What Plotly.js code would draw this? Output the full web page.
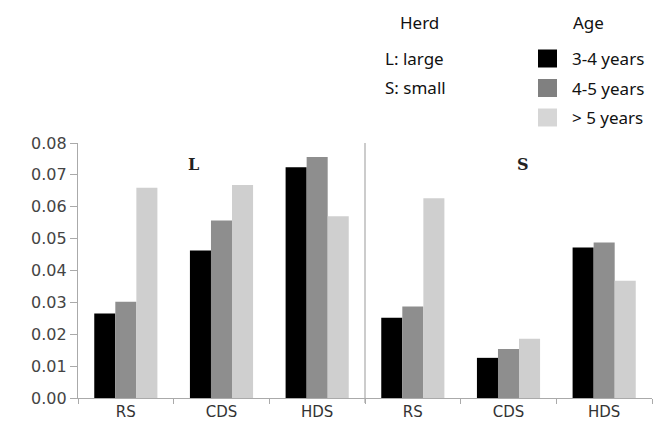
<!DOCTYPE html>
<html><head><meta charset="utf-8">
<script src="https://cdn.plot.ly/plotly-3.0.1.min.js"></script>
<style>html,body{margin:0;padding:0;background:#fff}#chart{width:653px;height:435px}</style>
</head><body><div id="chart"></div>
<script>
const categories = ["RS", "CDS", "HDS", "RS", "CDS", "HDS"];
const herds = ["L", "S"];
const herdLabels = ["L: large", "S: small"];
const ageGroups = ["3-4 years", "4-5 years", "> 5 years"];
const age34 = [0.0265, 0.0463, 0.0724, 0.0252, 0.0126, 0.0472];
const age45 = [0.0302, 0.0557, 0.0756, 0.0287, 0.0154, 0.0488];
const age5plus = [0.0660, 0.0668, 0.0570, 0.0627, 0.0186, 0.0368];
const yTicks = [0, 0.01, 0.02, 0.03, 0.04, 0.05, 0.06, 0.07, 0.08];
const colors = ["#000000", "#8e8e8e", "#cfcfcf"];
const legendColors = ["#000000", "#808080", "#d6d6d6"];

const FONT = "'Noto Sans', 'Open Sans', sans-serif";
const TICKFONT = "'DejaVu Sans', sans-serif";
const xs = categories.map((_, i) => i);
const series = [age34, age45, age5plus];
const traces = series.map((vals, k) => ({
  type: "bar", x: xs, y: vals, name: ageGroups[k],
  marker: {color: colors[k], line: {width: 0}},
  showlegend: false, hoverinfo: "none"
}));

// plot area: x 78..652, y 143..398 in page pixels
const PX = px => (px - 78) / 574;
const PY = py => (398 - py) / 255;

const shapes = [
  {type: "line", xref: "x", yref: "paper", x0: 2.5, x1: 2.5, y0: -0.02, y1: 1,
   line: {color: "#aaaaaa", width: 1.2}}
];
const annotations = [
  {xref: "x", yref: "paper", x: 0.71, y: PY(164), yanchor: "middle", text: "<b>" + herds[0] + "</b>", showarrow: false,
   font: {family: "'DejaVu Serif', serif", size: 16, color: "#222"}},
  {xref: "x", yref: "paper", x: 4.15, y: PY(164), yanchor: "middle", text: "<b>" + herds[1] + "</b>", showarrow: false,
   font: {family: "'DejaVu Serif', serif", size: 16, color: "#222"}},
  {xref: "paper", yref: "paper", x: PX(419), y: PY(23), xanchor: "center", yanchor: "middle",
   text: "Herd", showarrow: false, font: {family: FONT, size: 17, color: "#111"}},
  {xref: "paper", yref: "paper", x: PX(571), y: PY(23), xanchor: "left", yanchor: "middle",
   text: "Age", showarrow: false, font: {family: FONT, size: 17, color: "#111"}}
];
herdLabels.forEach((t, i) => {
  annotations.push({xref: "paper", yref: "paper", x: PX(383), y: PY(58 + 29.5*i),
    xanchor: "left", yanchor: "middle", text: t, showarrow: false,
    font: {family: FONT, size: 17, color: "#111"}});
});
ageGroups.forEach((t, i) => {
  const yc = 58.5 + 29.5*i;
  shapes.push({type: "rect", xref: "paper", yref: "paper",
    x0: PX(538), x1: PX(557), y0: PY(yc - 9), y1: PY(yc + 9),
    fillcolor: legendColors[i], line: {width: 0}});
  annotations.push({xref: "paper", yref: "paper", x: PX(570), y: PY(yc),
    xanchor: "left", yanchor: "middle", text: t, showarrow: false,
    font: {family: FONT, size: 17, color: "#111"}});
});

const layout = {
  width: 653, height: 435,
  margin: {l: 78, r: 1, t: 143, b: 37},
  paper_bgcolor: "#fff", plot_bgcolor: "#fff",
  barmode: "group", bargap: 0.34, bargroupgap: 0,
  font: {family: FONT, color: "#333"},
  xaxis: {
    range: [-0.5, 5.5], tickvals: xs, ticktext: categories,
    ticks: "", showgrid: false, zeroline: false,
    showline: true, linecolor: "#aaaaaa", linewidth: 1.2,
    tickfont: {size: 15, color: "#333", family: TICKFONT},
    minor: {tick0: -0.5, dtick: 1, ticks: "outside", ticklen: 5, tickcolor: "#aaaaaa", showgrid: false},
    fixedrange: true
  },
  yaxis: {
    range: [0, 0.08], tickvals: yTicks, ticktext: yTicks.map(v => v.toFixed(2)),
    ticks: "outside", ticklen: 7, tickcolor: "#aaaaaa",
    showgrid: false, zeroline: false,
    showline: true, linecolor: "#aaaaaa", linewidth: 1.2,
    tickfont: {size: 16, color: "#444", family: TICKFONT},
    fixedrange: true
  },
  shapes: shapes, annotations: annotations, showlegend: false
};
Plotly.newPlot("chart", traces, layout, {displayModeBar: false, staticPlot: true});
</script></body></html>
